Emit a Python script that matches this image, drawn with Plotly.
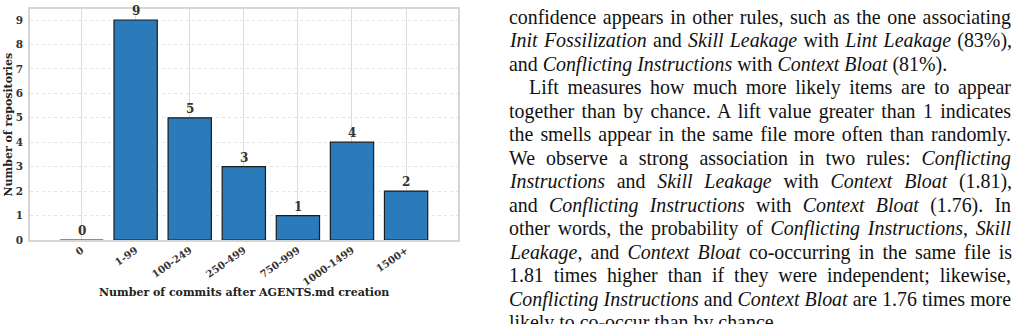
import plotly.graph_objects as go

# ---- data ----
categories = ["0", "1-99", "100-249", "250-499", "750-999", "1000-1499", "1500+"]
repos = [0, 9, 5, 3, 1, 4, 2]
y_ticks = [0, 1, 2, 3, 4, 5, 6, 7, 8, 9]

x_title = "Number of commits after AGENTS.md creation"
y_title = "Number of repositories"

# body text shown to the right of the figure (one entry per printed line)
text_lines = [
    "confidence appears in other rules, such as the one associating",
    "<i>Init Fossilization</i> and <i>Skill Leakage</i> with <i>Lint Leakage</i> (83%),",
    "and <i>Conflicting Instructions</i> with <i>Context Bloat</i> (81%).",
    "Lift measures how much more likely items are to appear",
    "together than by chance. A lift value greater than 1 indicates",
    "the smells appear in the same file more often than randomly.",
    "We observe a strong association in two rules: <i>Conflicting</i>",
    "<i>Instructions</i> and <i>Skill Leakage</i> with <i>Context Bloat</i> (1.81),",
    "and <i>Conflicting Instructions</i> with <i>Context Bloat</i> (1.76). In",
    "other words, the probability of <i>Conflicting Instructions</i>, <i>Skill</i>",
    "<i>Leakage</i>, and <i>Context Bloat</i> co-occurring in the same file is",
    "1.81 times higher than if they were independent; likewise,",
    "<i>Conflicting Instructions</i> and <i>Context Bloat</i> are 1.76 times more",
    "likely to co-occur than by chance.",
]
indented_lines = [3]
unjustified_lines = [2, 13]

# ---- layout geometry (pixels) ----
W, H = 1016, 324
ML, MR, MT, MB = 30, 558, 7, 84
PW = W - ML - MR
PH = H - MT - MB

SERIF = "DejaVu Serif"
TXT = "#333333"

fig = go.Figure()
fig.add_trace(go.Bar(
    x=categories, y=repos, width=0.8,
    marker=dict(color="#2b7bba", line=dict(color="#1c1c1c", width=1.2)),
    hoverinfo="skip",
))


def px_x(p):
    return (p - ML) / PW


def px_y(p):
    return (H - MB - p) / PH


annotations = []
# value labels above the bars
for c, v in zip(categories, repos):
    annotations.append(dict(
        text=str(v), x=c, y=v, xref="x", yref="y",
        xanchor="center", yanchor="bottom", yshift=0, showarrow=False,
        font=dict(family=SERIF, size=12, color=TXT, weight="bold"),
    ))

annotations += [
    dict(text=x_title, xref="paper", yref="paper", x=0.5, y=px_y(293),
         xanchor="center", yanchor="middle", showarrow=False,
         font=dict(family=SERIF, size=11, color="#222", weight="bold")),
    dict(text=y_title, xref="paper", yref="paper", x=px_x(8), y=0.5,
         xanchor="center", yanchor="middle", showarrow=False, textangle=-90,
         font=dict(family=SERIF, size=11, color="#222", weight="bold")),
]

LINE0, LSTEP = 15.5, 23.7
first_text = len(annotations)
for i, line in enumerate(text_lines):
    left = 527 if i in indented_lines else 507
    annotations.append(dict(
        text=line, xref="paper", yref="paper", x=px_x(left), y=px_y(LINE0 + LSTEP * i),
        xanchor="left", yanchor="middle", align="left", showarrow=False,
        font=dict(family="Liberation Serif", size=19.9, color="#111"),
    ))

fig.update_layout(
    width=W, height=H,
    margin=dict(l=ML, r=MR, t=MT, b=MB, pad=0),
    paper_bgcolor="white", plot_bgcolor="white",
    showlegend=False, bargap=0.2,
    annotations=annotations,
    xaxis=dict(
        type="category", range=[-0.953, 6.96],
        showgrid=True, gridcolor="#dcdcdc", gridwidth=1.2,
        showline=True, mirror=True, linecolor="#d6d6d6", linewidth=1.5,
        tickangle=-35, ticks="", ticklabelstandoff=-1,
        tickfont=dict(family=SERIF, size=10, color=TXT, weight="bold"),
        zeroline=False,
    ),
    yaxis=dict(
        range=[0, 9.45], tickvals=y_ticks,
        showgrid=True, gridcolor="#e4e4e4", gridwidth=0.8, griddash="dot",
        showline=True, mirror=True, linecolor="#d6d6d6", linewidth=1.5,
        ticks="outside", ticklen=3, tickcolor="rgba(0,0,0,0)",
        tickfont=dict(family=SERIF, size=10.5, color=TXT, weight="bold"),
        zeroline=False,
    ),
)

# justify body text lines to the column width
targets = {}
for i in range(len(text_lines)):
    if i in unjustified_lines:
        continue
    left = 527 if i in indented_lines else 507
    targets[first_text + i] = 1009 - left

js = """
var gd = document.getElementById('{plot_id}');
var targets = %s;
function justify() {
  var groups = gd.querySelectorAll('g.annotation');
  groups.forEach(function(g) {
    var idx = g.getAttribute('data-index');
    if (!(idx in targets)) return;
    var t = g.querySelector('text.annotation-text');
    if (!t) return;
    t.style.wordSpacing = '0px';
    var w = t.getComputedTextLength();
    var n = (t.textContent.match(/ /g) || []).length;
    if (n > 0) {
      t.style.wordSpacing = ((targets[idx] - w) / n) + 'px';
    }
  });
}
justify();
""" % str(targets).replace("'", '"')

fig.write_html("out.html", post_script=js)
